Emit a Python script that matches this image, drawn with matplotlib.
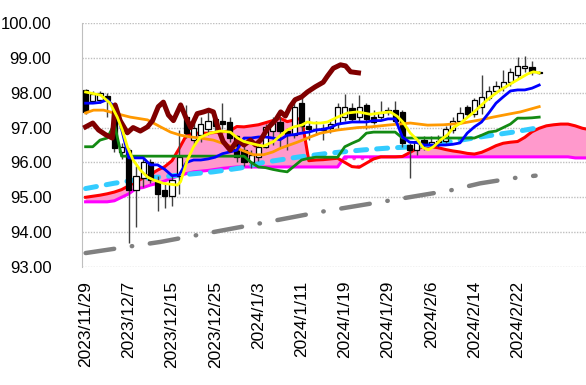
import matplotlib
matplotlib.use("Agg")
import matplotlib.pyplot as plt
import numpy as np

plt.rcParams["font.family"] = ["Liberation Sans", "DejaVu Sans"]
plt.rcParams["hatch.linewidth"] = 1.5

# Daily candles, index 0 = 2023/11/29
opens = [98.08, 97.75, 97.8, 97.9, 97.55, 96.3, 96.36, 95.2, 95.55, 96.0,
         95.45, 95.2, 95.05, 95.6, 97.3, 96.65, 96.8, 96.95, 97.25, 97.2,
         97.15, 96.75, 96.35, 96.0, 96.15, 96.45, 96.9, 97.16, 96.9, 96.8,
         97.7, 97.05, 96.97, 96.93, 96.98, 97.1, 97.3, 97.56, 97.3, 97.65,
         97.3, 97.3, 97.45, 97.5, 97.45, 96.5, 96.35, 96.65, 96.5, 96.58,
         96.62, 96.93, 97.2, 97.6, 97.4, 97.6, 97.85, 98.05, 98.15, 98.3,
         98.5, 98.7, 98.75, 98.6]
highs = [98.12, 98.05, 98.05, 98.0, 97.65, 96.55, 96.4, 95.9, 96.1, 96.1,
         95.6, 95.4, 95.6, 96.93, 97.65, 97.2, 97.3, 97.45, 97.4, 97.7,
         97.3, 96.8, 96.5, 96.35, 96.55, 97.1, 97.3, 97.3, 97.0, 97.7,
         97.95, 97.3, 97.2, 97.1, 97.2, 97.7, 97.95, 97.7, 97.93, 97.7,
         97.5, 97.75, 97.6, 97.75, 97.5, 96.55, 96.7, 96.75, 96.75, 96.8,
         97.05, 97.3, 97.6, 97.65, 97.85, 98.5, 98.2, 98.35, 98.65, 98.7,
         99.03, 99.05, 98.9, 98.62]
lows = [97.4, 97.7, 97.7, 97.3, 96.3, 96.1, 93.7, 94.15, 95.3, 95.4,
        94.6, 94.7, 94.75, 95.1, 96.7, 96.5, 96.6, 96.8, 96.9, 96.95,
        96.6, 96.0, 95.9, 95.85, 96.05, 96.4, 96.5, 96.45, 96.35, 96.7,
        96.9, 96.65, 96.8, 96.65, 96.85, 97.0, 97.2, 97.2, 97.2, 96.95,
        97.1, 97.25, 97.35, 97.1, 96.45, 95.55, 96.2, 96.35, 96.4, 96.45,
        96.55, 96.85, 97.1, 97.3, 97.3, 97.4, 97.8, 98.0, 98.05, 98.2,
        98.4, 98.6, 98.5, 98.55]
closes = [97.45, 97.95, 98.0, 97.8, 96.4, 96.45, 95.2, 95.6, 96.0, 95.5,
          95.1, 95.05, 95.5, 96.15, 96.85, 97.0, 97.1, 97.2, 97.05, 97.1,
          96.7, 96.15, 96.0, 96.2, 96.45, 97.02, 97.13, 96.9, 96.78, 97.6,
          97.05, 96.95, 96.95, 96.98, 97.1, 97.6, 97.6, 97.25, 97.6, 97.25,
          97.15, 97.42, 97.5, 97.2, 96.55, 96.35, 96.62, 96.5, 96.6, 96.62,
          96.95, 97.2, 97.42, 97.4, 97.8, 97.88, 98.05, 98.2, 98.3, 98.6,
          98.78, 98.78, 98.6, 98.57]

# Conversion line (blue) and base line (green), one value per day
tenkan = [97.7, 97.7, 97.72, 97.8, 97.6, 96.95, 96.13, 96.13, 96.13, 95.93,
          95.93, 95.8, 95.62, 95.64, 96.0, 96.07, 96.07, 96.1, 96.15, 96.25,
          96.3, 96.35, 96.7, 96.7, 96.73, 96.73, 96.7, 96.65, 96.78, 96.8,
          96.84, 96.87, 96.93, 96.95, 97.0, 97.1, 97.13, 97.16, 97.16, 97.16,
          97.2, 97.2, 97.25, 97.25, 96.73, 96.58, 96.57, 96.5, 96.5, 96.5,
          96.5, 96.52, 96.56, 96.84, 97.02, 97.16, 97.42, 97.7, 97.88, 98.05,
          98.08, 98.08, 98.13, 98.22]
kijun = [96.45, 96.45, 96.64, 96.7, 97.1, 96.18, 96.18, 96.18, 96.18, 96.18,
         96.18, 96.18, 96.18, 96.18, 96.18, 96.18, 96.18, 96.18, 96.18, 96.18,
         96.18, 96.18, 96.18, 96.0, 95.87, 95.85, 95.8, 95.76, 95.73, 95.9,
         96.07, 96.12, 96.15, 96.15, 96.15, 96.15, 96.45, 96.55, 96.64, 96.84,
         96.87, 96.87, 96.87, 96.87, 96.7, 96.7, 96.7, 96.7, 96.7, 96.7,
         96.7, 96.7, 96.7, 96.7, 96.7, 96.78, 96.87, 96.9, 97.0, 97.1,
         97.27, 97.27, 97.28, 97.3]

# Leading spans (red / magenta), drawn 26 days ahead
span_a = [95.0, 95.03, 95.06, 95.1, 95.15, 95.22, 95.33, 95.45, 95.55, 95.65,
          95.78, 95.88, 96.05, 96.4, 96.78, 96.84, 96.84, 96.84, 96.86, 96.88,
          96.9, 97.03, 97.02, 97.05, 97.08, 97.14, 97.2, 97.27, 97.17, 97.22,
          97.27, 96.05, 96.07, 96.08, 96.1, 96.12, 96.0, 95.88, 95.86, 95.98,
          96.1, 96.16, 96.16, 96.16, 96.17, 96.28, 96.4, 96.45, 96.45, 96.42,
          96.37, 96.33, 96.3, 96.26, 96.24, 96.29, 96.38, 96.48, 96.55, 96.58,
          96.6, 96.72, 96.88, 96.98, 97.05, 97.08, 97.1, 97.1, 97.05, 96.98,
          96.94]
span_b = [94.87, 94.87, 94.87, 94.87, 94.9, 95.0, 95.1, 95.25, 95.28, 95.35,
          95.4, 95.47, 95.55, 95.62, 95.68, 95.73, 95.75, 95.77, 95.8, 95.83,
          95.85, 95.87, 95.87, 95.87, 95.87, 95.87, 95.87, 95.87, 95.87, 95.87,
          95.87, 95.87, 95.87, 95.87, 95.87, 95.87, 96.16, 96.16, 96.16, 96.16,
          96.16, 96.16, 96.16, 96.16, 96.16, 96.16, 96.16, 96.16, 96.16, 96.16,
          96.16, 96.16, 96.16, 96.16, 96.16, 96.16, 96.16, 96.16, 96.16, 96.16,
          96.16, 96.16, 96.16, 96.16, 96.16, 96.16, 96.16, 96.16, 96.13, 96.13,
          96.13]

# Smooth lines read at points along the chart (day index, value)
ma_short_x = [0, 2.1, 3.4, 4.4, 5.1, 5.8, 6.6, 7.6, 8.6, 9.4, 10.8, 12.75, 13.2,
              14.1, 15.0, 15.9, 17.3, 18.7, 20.1, 21.1, 22.0, 22.9, 23.9, 24.7,
              26.1, 27.1, 28.0, 28.9, 30.0, 30.8, 31.6, 32.6, 33.6, 35.0, 36.4,
              37.8, 39.6, 40.9, 42.3, 43.3, 44.1, 45.1, 46.1, 46.9, 47.6, 48.3,
              49.3, 50.3, 51.1, 52.1, 53.9, 55.8, 57.6, 59.4, 61.4, 62.2, 63]
ma_short_y = [98.02, 97.93, 97.7, 97.3, 96.93, 96.45, 96.07, 95.78, 95.58, 95.5,
              95.4, 95.35, 95.45, 96.05, 96.45, 96.72, 96.84, 96.9, 96.87, 96.7,
              96.6, 96.55, 96.5, 96.47, 96.6, 96.78, 96.93, 97.02, 97.07, 97.16,
              97.13, 97.13, 97.16, 97.3, 97.42, 97.45, 97.38, 97.42, 97.45, 97.32,
              97.15, 96.84, 96.64, 96.42, 96.36, 96.45, 96.64, 96.8, 97.0, 97.13,
              97.44, 97.8, 98.08, 98.3, 98.54, 98.6, 98.57]
ma_mid_x = [0, 1.1, 2.5, 3.9, 6.2, 8.6, 10.4, 11.8, 13.2, 14.6, 15.9, 17.75,
            19.7, 21.1, 23.3, 24.7, 26.0, 27.1, 29.4, 31.2, 32.6, 35.0, 37.8,
            39.6, 41.9, 45.1, 47.5, 49.7, 52.1, 54.8, 56.6, 58.6, 60.4, 63]
ma_mid_y = [97.42, 97.5, 97.5, 97.42, 97.3, 97.22, 97.02, 96.87, 96.78, 96.73,
            96.7, 96.64, 96.5, 96.4, 96.22, 96.22, 96.3, 96.41, 96.58, 96.73,
            96.84, 96.93, 97.0, 97.02, 97.07, 97.13, 97.07, 97.08, 97.12, 97.22,
            97.3, 97.38, 97.45, 97.6]
ma_long_x = [0, 3.9, 8.6, 13.2, 17.75, 21.5, 24.7, 29.4, 34.0, 38.6, 41.9,
             45.5, 50.3, 54.8, 59.4, 63]
ma_long_y = [95.25, 95.4, 95.55, 95.64, 95.73, 95.84, 96.0, 96.15, 96.27, 96.36,
             96.41, 96.45, 96.58, 96.73, 96.87, 97.0]
ma_200_x = [0, 10.4, 22.9, 32.6, 42.0, 50.7, 54.8, 59.4, 62.5]
ma_200_y = [93.4, 93.72, 94.2, 94.58, 94.9, 95.2, 95.4, 95.55, 95.62]

# Lagging span (close shifted back)
chikou_x = [0, 1.0, 1.8, 2.75, 3.7, 4.1, 4.8, 5.8, 6.6, 7.6, 8.6, 9.3, 10.1,
            10.8, 11.5, 12.2, 13.2, 13.9, 14.6, 15.5, 16.4, 17.1, 17.75, 18.5,
            19.1, 20.1, 21.1, 22.0, 22.9, 23.6, 24.3, 25.3, 26.4, 27.1, 27.75,
            28.4, 29.1, 30.0, 30.8, 31.9, 33.0, 33.6, 34.4, 35.4, 36.1, 36.8,
            37.9]
chikou_y = [97.02, 97.13, 96.93, 96.8, 96.7, 97.65, 97.2, 96.85, 97.0, 96.9,
            97.02, 97.2, 97.6, 97.73, 97.36, 97.2, 97.65, 97.3, 97.0, 97.4,
            97.45, 97.5, 97.45, 96.93, 96.6, 96.35, 96.64, 96.5, 96.64, 96.5,
            96.64, 96.98, 97.22, 97.45, 97.33, 97.6, 97.8, 97.88, 98.02, 98.17,
            98.3, 98.48, 98.7, 98.8, 98.77, 98.6, 98.57]

date_labels = ["2023/11/29", "2023/12/7", "2023/12/15", "2023/12/25", "2024/1/3",
               "2024/1/11", "2024/1/19", "2024/1/29", "2024/2/6", "2024/2/14",
               "2024/2/22"]
label_pos = [0, 6, 12, 18, 24, 30, 36, 42, 48, 54, 60]

fig = plt.figure(figsize=(5.86, 3.85), dpi=100)
ax = fig.add_axes([82 / 586, 118 / 385, 504 / 586, 244 / 385])

# cloud
cx = np.arange(len(span_a))
a = np.array(span_a)
b = np.array(span_b)
ax.fill_between(cx, a, b, where=a >= b, interpolate=True,
                facecolor="#FF99CC", linewidth=0, zorder=1)
ax.fill_between(cx, a, b, where=b > a, interpolate=True,
                facecolor="white", edgecolor="#FF44CC", hatch="..",
                linewidth=0, zorder=1)
ax.plot(cx, span_b, color="#FF00FF", lw=2.2, zorder=2)
ax.plot(cx, span_a, color="#FF0000", lw=2.2, zorder=2)

# long averages
ax.plot(ma_200_x, ma_200_y, color="#808080", lw=3.2, zorder=3,
        dashes=(6.5, 4.0, 0.1, 4.0), dash_capstyle="round")
ax.plot(ma_long_x, ma_long_y, color="#33CCFF", lw=3.6, zorder=3,
        dashes=(2.2, 2.0), dash_capstyle="round")

# candles
idx = np.arange(len(closes))
o = np.array(opens)
c = np.array(closes)
ax.vlines(idx, lows, highs, color="#404040", lw=1, zorder=4)
up = c >= o
body = np.maximum(np.abs(c - o), 0.015)
ax.bar(idx[up], body[up], bottom=o[up], width=0.72, color="white",
       edgecolor="black", linewidth=0.9, zorder=4.5)
ax.bar(idx[~up], body[~up], bottom=c[~up], width=0.72, color="black",
       edgecolor="black", linewidth=0.9, zorder=4.5)

# other lines
ax.plot(np.arange(len(kijun)), kijun, color="#138A13", lw=2, zorder=5)
ax.plot(ma_mid_x, ma_mid_y, color="#FF9900", lw=2, zorder=5)
ax.plot(np.arange(len(tenkan)), tenkan, color="#0000FF", lw=2, zorder=5)
ax.plot(chikou_x, chikou_y, color="#800000", lw=3.6, zorder=6)
ax.plot(ma_short_x, ma_short_y, color="#FFFF00", lw=2, zorder=6)

ax.set_xlim(-0.5, 69.5)
ax.set_ylim(93, 100)
ax.set_yticks(np.arange(93, 100.5, 1))
ax.set_yticklabels([f"{v:.2f}" for v in np.arange(93, 100.5, 1)], fontsize=12)
ax.set_xticks(label_pos)
ax.set_xticklabels(date_labels, rotation=90, fontsize=12.5)
ax.tick_params(axis="both", length=0)
ax.tick_params(axis="y", pad=22)
ax.tick_params(axis="x", pad=10)
ax.grid(axis="y", color="#BFBFBF", linestyle=(0, (1, 1)), lw=1)
ax.set_axisbelow(True)
for s in ["top", "right", "bottom"]:
    ax.spines[s].set_visible(False)
ax.spines["left"].set_color("#BFBFBF")

fig.savefig("out.png", dpi=100)
